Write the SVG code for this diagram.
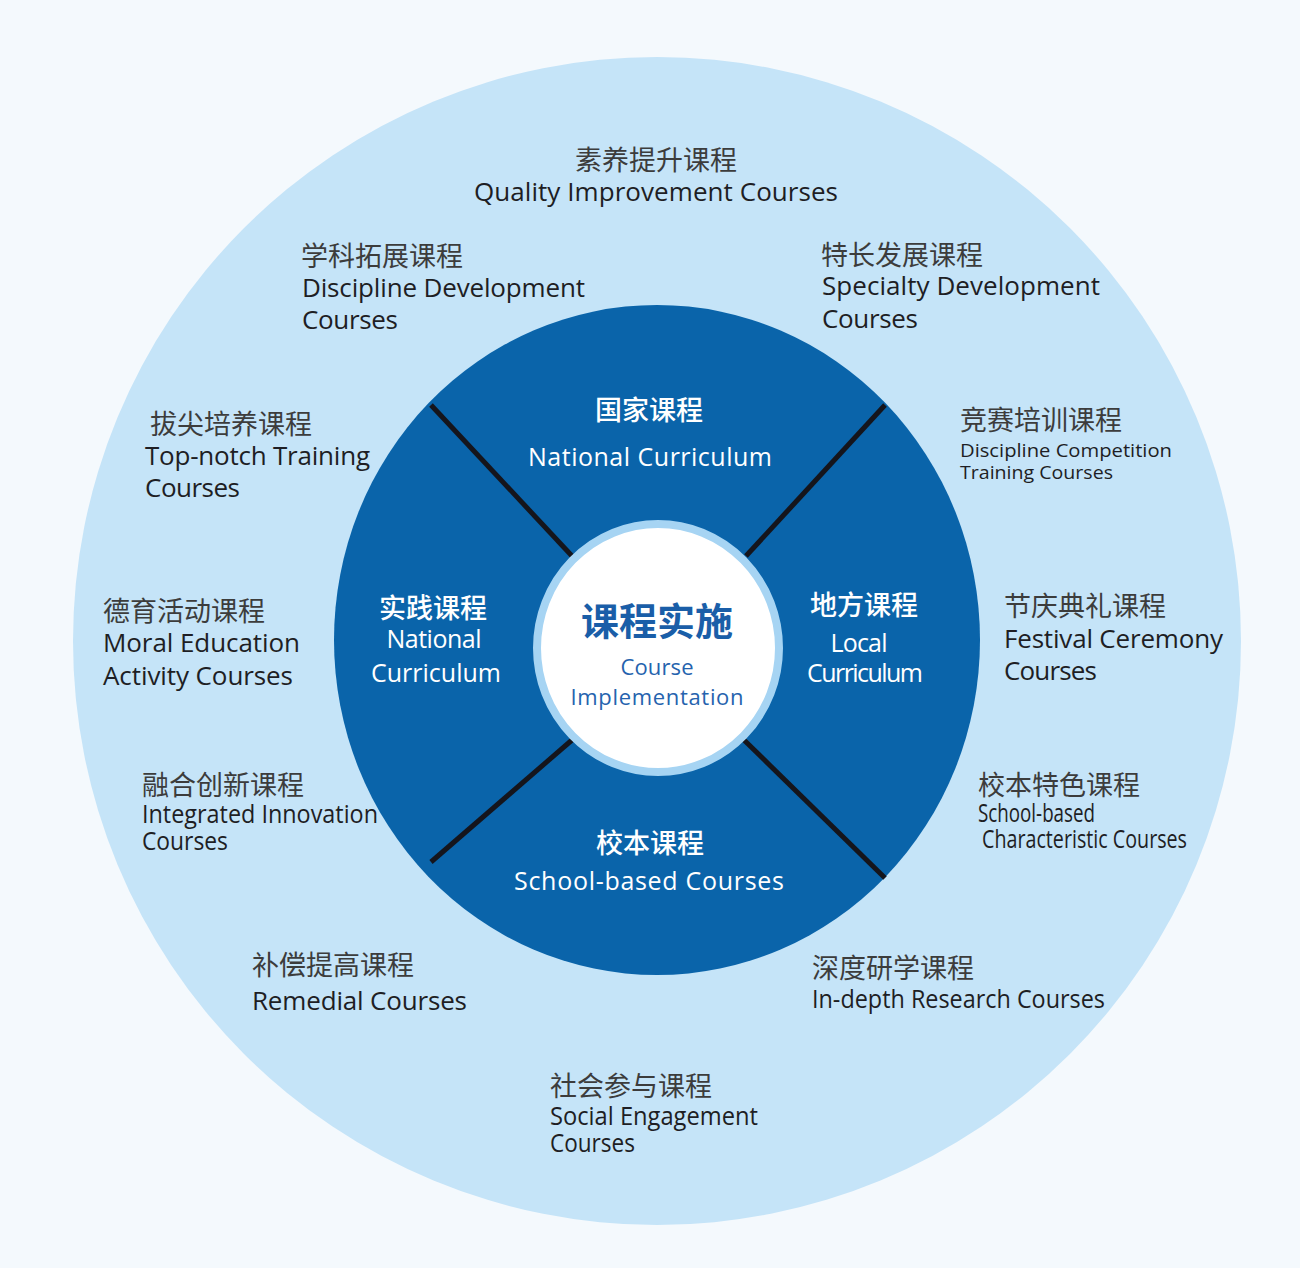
<svg xmlns="http://www.w3.org/2000/svg" width="1300" height="1268" viewBox="0 0 1300 1268">
<style>
.cn{font-family:"Noto Sans CJK SC","Noto Sans",sans-serif;font-size:27px;fill:#3c3c3c}
.en{font-family:"Open Sans","Liberation Sans",sans-serif;font-size:26px;fill:#1e1e24}
.sm{font-size:19px}
.wcn{font-family:"Noto Sans CJK SC","Noto Sans",sans-serif;font-size:27px;font-weight:500;fill:#ffffff;text-anchor:middle}
.wen{font-family:"Open Sans","Liberation Sans",sans-serif;font-size:25px;fill:#ffffff;text-anchor:middle}
.mid{text-anchor:middle}
</style>
<rect x="0" y="0" width="1300" height="1268" fill="#f4f9fd"/>
<g id="outer-ring">
<circle cx="657" cy="641" r="584" fill="#c5e4f8"/>
</g>
<g id="inner-ring">
<ellipse cx="657" cy="640" rx="323" ry="335" fill="#0a64aa"/>
</g>
<g id="connectors" stroke="#15151c" stroke-width="5" stroke-linecap="butt">
<line x1="431" y1="405" x2="572" y2="556"/>
<line x1="885" y1="405" x2="746" y2="556"/>
<line x1="431" y1="862" x2="572" y2="740"/>
<line x1="885" y1="878" x2="744" y2="740"/>
</g>
<g id="center">
<ellipse cx="658" cy="648" rx="121" ry="124" fill="#ffffff" stroke="#a6d4f3" stroke-width="8"/>
<text x="657" y="635" class="mid" font-family="'Noto Sans CJK SC',sans-serif" font-size="38" font-weight="bold" fill="#1a5ea8">课程实施</text>
<text x="657" y="675" class="mid" font-family="'Open Sans',sans-serif" font-size="22" fill="#2563ae" textLength="73">Course</text>
<text x="657" y="705" class="mid" font-family="'Open Sans',sans-serif" font-size="22" fill="#2563ae" textLength="173">Implementation</text>
</g>
<g id="national">
<text x="649" y="420" class="wcn">国家课程</text>
<text x="650" y="466" class="wen" textLength="244">National Curriculum</text>
</g>
<g id="practice">
<text x="433" y="618" class="wcn">实践课程</text>
<text x="434" y="648" class="wen" textLength="95">National</text>
<text x="436" y="682" class="wen" textLength="130">Curriculum</text>
</g>
<g id="local">
<text x="864" y="615" class="wcn">地方课程</text>
<text x="859" y="652" class="wen" font-size="23" textLength="57">Local</text>
<text x="865" y="682" class="wen" font-size="23" textLength="116">Curriculum</text>
</g>
<g id="school">
<text x="650" y="853" class="wcn">校本课程</text>
<text x="649" y="890" class="wen" textLength="270">School-based Courses</text>
</g>
<g id="quality">
<text x="656" y="170" class="cn mid">素养提升课程</text>
<text x="656" y="201" class="en mid" textLength="364">Quality Improvement Courses</text>
</g>
<g id="discipline-dev">
<text x="301" y="266" class="cn">学科拓展课程</text>
<text x="302" y="297" class="en" textLength="283">Discipline Development</text>
<text x="302" y="329" class="en" textLength="96">Courses</text>
</g>
<g id="specialty">
<text x="821" y="265" class="cn">特长发展课程</text>
<text x="822" y="295" class="en" textLength="278">Specialty Development</text>
<text x="822" y="328" class="en" textLength="96">Courses</text>
</g>
<g id="top-notch">
<text x="150" y="434" class="cn">拔尖培养课程</text>
<text x="145" y="465" class="en" textLength="225">Top-notch Training</text>
<text x="145" y="497" class="en" textLength="95">Courses</text>
</g>
<g id="competition">
<text x="960" y="430" class="cn">竞赛培训课程</text>
<text x="960" y="457" class="en sm" textLength="212" lengthAdjust="spacingAndGlyphs">Discipline Competition</text>
<text x="960" y="479" class="en sm" textLength="153" lengthAdjust="spacingAndGlyphs">Training Courses</text>
</g>
<g id="moral">
<text x="103" y="621" class="cn">德育活动课程</text>
<text x="103" y="652" class="en" textLength="197">Moral Education</text>
<text x="103" y="685" class="en" textLength="190">Activity Courses</text>
</g>
<g id="festival">
<text x="1004" y="616" class="cn">节庆典礼课程</text>
<text x="1004" y="648" class="en" textLength="219">Festival Ceremony</text>
<text x="1004" y="680" class="en" textLength="93">Courses</text>
</g>
<g id="integrated">
<text x="142" y="795" class="cn">融合创新课程</text>
<text x="142" y="823" class="en" font-size="20" textLength="236" lengthAdjust="spacingAndGlyphs">Integrated Innovation</text>
<text x="142" y="850" class="en" font-size="20" textLength="86" lengthAdjust="spacingAndGlyphs">Courses</text>
</g>
<g id="characteristic">
<text x="978" y="795" class="cn">校本特色课程</text>
<text x="978" y="822" class="en" font-size="19" textLength="117" lengthAdjust="spacingAndGlyphs">School-based</text>
<text x="982" y="848" class="en" font-size="19" textLength="205" lengthAdjust="spacingAndGlyphs">Characteristic Courses</text>
</g>
<g id="remedial">
<text x="252" y="975" class="cn">补偿提高课程</text>
<text x="252" y="1010" class="en" textLength="215">Remedial Courses</text>
</g>
<g id="research">
<text x="812" y="978" class="cn">深度研学课程</text>
<text x="812" y="1008" class="en" font-size="23" textLength="293" lengthAdjust="spacingAndGlyphs">In-depth Research Courses</text>
</g>
<g id="social">
<text x="550" y="1096" class="cn">社会参与课程</text>
<text x="550" y="1125" class="en" font-size="21" textLength="208" lengthAdjust="spacingAndGlyphs">Social Engagement</text>
<text x="550" y="1152" class="en" font-size="21" textLength="85" lengthAdjust="spacingAndGlyphs">Courses</text>
</g>
</svg>
